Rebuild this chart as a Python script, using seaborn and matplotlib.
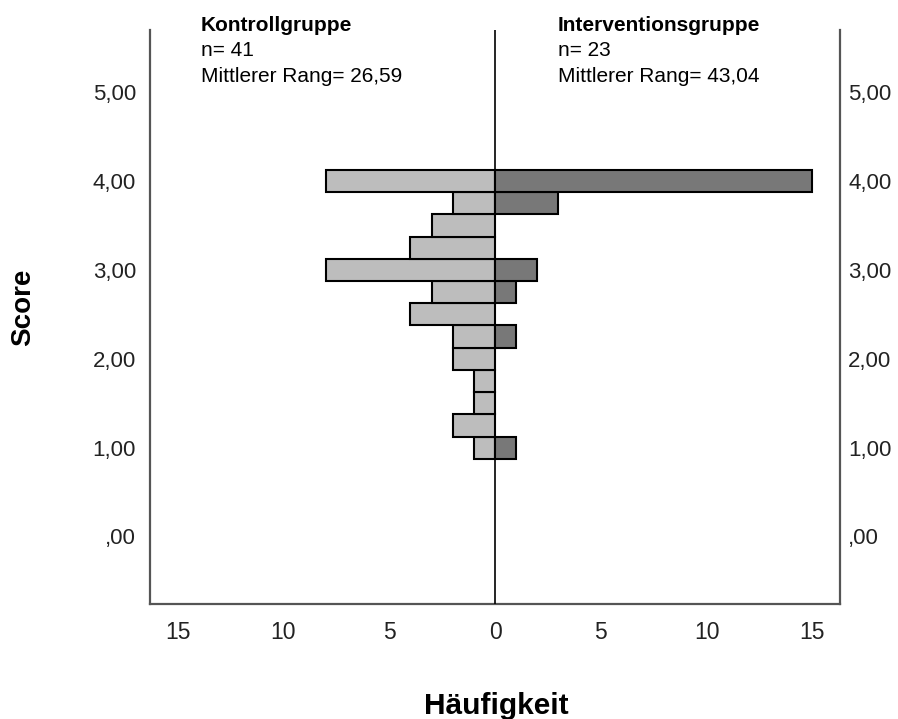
import numpy as np
import pandas as pd
import matplotlib
matplotlib.use("Agg")
import matplotlib.pyplot as plt
import seaborn as sns

# Data
scores_kontroll = [4.00, 3.75, 3.50, 3.25, 3.00, 2.75, 2.50, 2.25, 2.00, 1.75, 1.50, 1.25, 1.00]
counts_kontroll = [8, 2, 3, 4, 8, 3, 4, 2, 2, 1, 1, 2, 1]
scores_interv = [4.00, 3.75, 3.00, 2.75, 2.25, 1.00]
counts_interv = [15, 3, 2, 1, 1, 1]

y_ticks = [0, 1, 2, 3, 4, 5]
y_ticklabels = [",00", "1,00", "2,00", "3,00", "4,00", "5,00"]
x_ticks = [-15, -10, -5, 0, 5, 10, 15]
x_ticklabels = ["15", "10", "5", "0", "5", "10", "15"]

group_left = ["Kontrollgruppe", "n= 41", "Mittlerer Rang= 26,59"]
group_right = ["Interventionsgruppe", "n= 23", "Mittlerer Rang= 43,04"]

sns.set_theme(style="white")
plt.rcParams['font.family'] = ['Liberation Sans', 'DejaVu Sans']

W, H = 898, 719
fig = plt.figure(figsize=(W / 100, H / 100), dpi=100)
ax = fig.add_axes([150 / W, 1 - 604 / H, (840 - 150) / W, (604 - 30) / H])

df_l = pd.DataFrame({"score": scores_kontroll, "count": [-c for c in counts_kontroll]})
df_r = pd.DataFrame({"score": scores_interv, "count": counts_interv})

sns.barplot(data=df_l, x="count", y="score", orient="y", native_scale=True,
            color="#bdbdbd", saturation=1, width=1.0, errorbar=None,
            edgecolor="black", linewidth=1.5, ax=ax)
sns.barplot(data=df_r, x="count", y="score", orient="y", native_scale=True,
            color="#787878", saturation=1, width=1.0, errorbar=None,
            edgecolor="black", linewidth=1.5, ax=ax)

ax.axvline(0, color="black", linewidth=1.2, zorder=5)

ax.set_xlim(-16.3, 16.3)
ax.set_ylim(-0.76, 5.7)
ax.set_yticks(y_ticks)
ax.set_yticklabels(y_ticklabels)
ax.set_xticks(x_ticks)
ax.set_xticklabels(x_ticklabels)
ax.set_xlabel("")
ax.set_ylabel("")

lab_col = "#222222"
ax.tick_params(axis="y", length=0, labelleft=True, labelright=False, pad=10,
               labelsize=16, labelcolor=lab_col)
ax.tick_params(axis="x", length=0, pad=12, labelsize=16.5, labelcolor=lab_col)

# right-hand labels with their own padding
ax2 = ax.twinx()
ax2.set_ylim(ax.get_ylim())
ax2.set_yticks(y_ticks)
ax2.set_yticklabels(y_ticklabels)
ax2.tick_params(axis="y", length=0, pad=6, labelsize=16, labelcolor=lab_col)
ax2.grid(False)
for s in ax2.spines.values():
    s.set_visible(False)

for s in ["left", "right", "bottom"]:
    ax.spines[s].set_visible(True)
    ax.spines[s].set_color("#555555")
    ax.spines[s].set_linewidth(1.6)
ax.spines["top"].set_visible(False)

# Group annotations
base_y = [31, 56.5, 82]
for i, (t, yy) in enumerate(zip(group_left, base_y)):
    fig.text(201 / W, 1 - yy / H, t, fontsize=15,
             fontweight="bold" if i == 0 else "normal", va="baseline", ha="left", color="black")
for i, (t, yy) in enumerate(zip(group_right, base_y)):
    fig.text(558 / W, 1 - yy / H, t, fontsize=15,
             fontweight="bold" if i == 0 else "normal", va="baseline", ha="left", color="black")

fig.text(496 / W, 1 - 714 / H, "Häufigkeit", fontsize=21.5, fontweight="bold",
         ha="center", va="baseline", color="black")
fig.text(23.5 / W, 1 - 307.5 / H, "Score", fontsize=20, fontweight="bold",
         ha="center", va="center", rotation=90, color="black")

fig.savefig("out.png", dpi=100)
